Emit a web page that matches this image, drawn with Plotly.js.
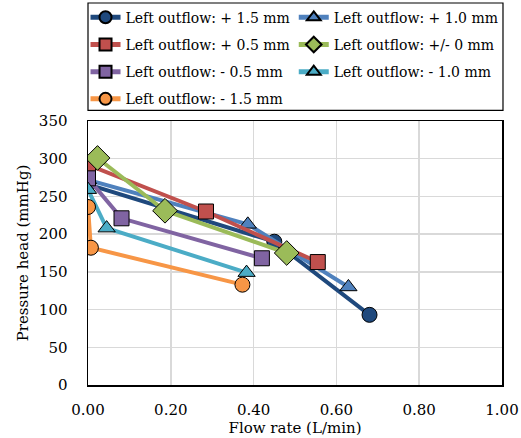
<!DOCTYPE html>
<html><head><meta charset="utf-8">
<script src="https://cdn.plot.ly/plotly-3.0.1.min.js"></script>
<style>html,body{margin:0;padding:0;background:#fff}#c{width:521px;height:438px}</style>
</head><body><div id="c"></div>
<script>
const names = ["Left outflow: + 1.5 mm","Left outflow: + 1.0 mm","Left outflow: + 0.5 mm","Left outflow: +/- 0 mm","Left outflow: - 0.5 mm","Left outflow: - 1.0 mm","Left outflow: - 1.5 mm"];
const flowP15 = [0.00, 0.45, 0.68];   const presP15 = [266, 190, 93];
const flowP10 = [0.00, 0.386, 0.629]; const presP10 = [272, 213, 130];
const flowP05 = [0.00, 0.285, 0.555]; const presP05 = [292, 230, 163];
const flow0   = [0.023, 0.186, 0.48]; const pres0   = [301, 231, 175];
const flowM05 = [0.00, 0.081, 0.42];  const presM05 = [274, 221, 168];
const flowM10 = [0.00, 0.045, 0.383]; const presM10 = [259, 208, 149];
const flowM15 = [0.00, 0.007, 0.373]; const presM15 = [236, 182, 133];
const xTicks = [0, 0.2, 0.4, 0.6, 0.8, 1.0];
const xTickText = ["0.00","0.20","0.40","0.60","0.80","1.00"];

const colors = ["#1F497D","#4F81BD","#C0504D","#9BBB59","#8064A2","#4BACC6","#F79646"];
const symbols = ["circle","triangle-up","square","diamond","square","triangle-up","circle"];
const sizes = [15,15,15,19,15,15,15];
const legendOf = ["legend","legend2","legend","legend2","legend","legend2","legend"];
const xs = [flowP15,flowP10,flowP05,flow0,flowM05,flowM10,flowM15];
const ys = [presP15,presP10,presP05,pres0,presM05,presM10,presM15];
const font = "DejaVu Serif";

const data = names.map((n,i)=>({
  x: xs[i], y: ys[i], name: n, type:'scatter', mode:'lines+markers',
  legend: legendOf[i], legendgroup: 'g'+i,
  line:{color:colors[i], width:4},
  marker:{color:colors[i], symbol:symbols[i], size:sizes[i], line:{color:'#000', width:1}}
}));

const legCommon = {orientation:'v', yanchor:'top', xanchor:'left', bgcolor:'rgba(0,0,0,0)',
  borderwidth:0, tracegroupgap:6, itemsizing:'constant',
  font:{family:font, size:14, color:'#000'}};

const layout = {
  width:521, height:438,
  margin:{l:88, r:19, t:121, b:53, autoexpand:false},
  paper_bgcolor:'#fff', plot_bgcolor:'#fff',
  font:{family:font, size:14, color:'#000'},
  showlegend:true,
  legend: Object.assign({}, legCommon, {x:-0.006, y:1.452}),
  legend2: Object.assign({}, legCommon, {x:0.497, y:1.452}),
  shapes:[{type:'rect', xref:'paper', yref:'paper', x0:0, x1:1.0024, y0:1.04, y1:1.447,
    line:{color:'#000', width:1.2}, fillcolor:'rgba(0,0,0,0)'}],
  xaxis:{range:[0,1], tickvals:xTicks, ticktext:xTickText, showgrid:true, gridcolor:'#d9d9d9', gridwidth:1.5,
    zeroline:false, showline:true, linecolor:'#000', linewidth:1.5, mirror:true,
    ticks:'outside', ticklen:10, tickcolor:'rgba(0,0,0,0)', tickfont:{family:font, size:15},
    title:{text:'Flow rate (L/min)', font:{family:font, size:15}, standoff:0}},
  yaxis:{range:[0,350], dtick:50, showgrid:true, gridcolor:'#d9d9d9', gridwidth:1.5,
    zeroline:false, showline:true, linecolor:'#000', linewidth:1.5, mirror:true,
    ticks:'outside', ticklen:16, tickcolor:'rgba(0,0,0,0)', tickfont:{family:font, size:15},
    title:{text:'Pressure head (mmHg)', font:{family:font, size:15}, standoff:6}}
};
Plotly.newPlot('c', data, layout, {displayModeBar:false, staticPlot:true});
</script></body></html>
